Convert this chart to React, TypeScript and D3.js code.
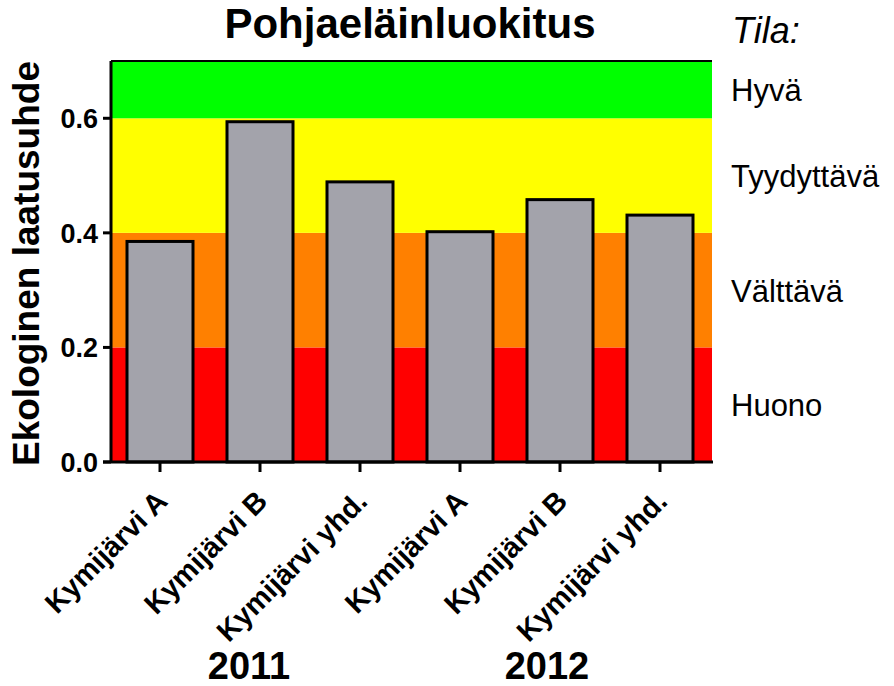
import React from "react";
import * as d3 from "d3";

const categories = ["Kymijärvi A", "Kymijärvi B", "Kymijärvi yhd.", "Kymijärvi A", "Kymijärvi B", "Kymijärvi yhd."];
const values = [0.385, 0.594, 0.489, 0.402, 0.458, 0.431];
const years = ["2011", "2012"];
const yTicks = [0.0, 0.2, 0.4, 0.6];
const zones = [
  { name: "Huono", from: 0.0, to: 0.2, color: "#ff0000" },
  { name: "Välttävä", from: 0.2, to: 0.4, color: "#ff8000" },
  { name: "Tyydyttävä", from: 0.4, to: 0.6, color: "#ffff00" },
  { name: "Hyvä", from: 0.6, to: 0.7, color: "#00ff00" },
];

const W = 894, H = 686;
const left = 111, right = 712, top = 61, bottom = 462;

export default function App() {
  const x = d3.scaleBand<number>().domain(d3.range(categories.length)).range([110, 710]).paddingInner(0.34).paddingOuter(0.17);
  const y = d3.scaleLinear().domain([0, 0.7]).range([bottom, top]);
  const font = "Arial, 'Liberation Sans', sans-serif";
  return (
    <svg width={W} height={H} style={{ position: "absolute", left: 0, top: 0, background: "#fff" }} fontFamily={font}>
      {zones.map((z, i) => (
        <rect key={i} x={left} width={right - left} y={y(z.to)} height={y(z.from) - y(z.to)} fill={z.color} />
      ))}
      {values.map((v, i) => (
        <rect key={i} x={x(i)} width={x.bandwidth()} y={y(v)} height={y(0) - y(v)} fill="#a3a3ab" stroke="#000" strokeWidth={3} />
      ))}
      <line x1={left} x2={right} y1={top} y2={top} stroke="#000" strokeWidth={2} />
      <line x1={left} x2={left} y1={top} y2={bottom} stroke="#000" strokeWidth={3} />
      <line x1={103} x2={right + 1} y1={bottom} y2={bottom} stroke="#000" strokeWidth={3} />
      {yTicks.map((t) => (
        <g key={t}>
          <line x1={103} x2={left} y1={y(t)} y2={y(t)} stroke="#000" strokeWidth={3} />
          <text x={98} y={y(t)} dy="0.36em" textAnchor="end" fontSize={27} fontWeight="bold">{t.toFixed(1)}</text>
        </g>
      ))}
      {categories.map((c, i) => {
        const cx = x(i)! + x.bandwidth() / 2;
        return (
          <g key={i}>
            <line x1={cx} x2={cx} y1={bottom} y2={bottom + 10} stroke="#000" strokeWidth={3} />
            <text transform={`translate(${cx + 9},${bottom + 41}) rotate(-45)`} textAnchor="end" fontSize={29} fontWeight="bold">{c}</text>
          </g>
        );
      })}
      {years.map((yr, i) => {
        const cx = (x(i * 3 + 1)! + x.bandwidth() / 2) + (i === 0 ? -11 : -13);
        return <text key={yr} x={cx} y={679} textAnchor="middle" fontSize={38} fontWeight="bold">{yr}</text>;
      })}
      <text transform={`translate(39,${(top + bottom) / 2 + 2}) rotate(-90)`} textAnchor="middle" fontSize={37} fontWeight="bold">Ekologinen laatusuhde</text>
      <text x={410} y={38} textAnchor="middle" fontSize={42} fontWeight="bold">Pohjaeläinluokitus</text>
      <text x={732} y={43} fontSize={36} fontStyle="italic">Tila:</text>
      {zones.map((z, i) => (
        <text key={i} x={731} y={y((z.from + z.to) / 2)} dy="0.38em" fontSize={31}>{z.name}</text>
      ))}
    </svg>
  );
}
